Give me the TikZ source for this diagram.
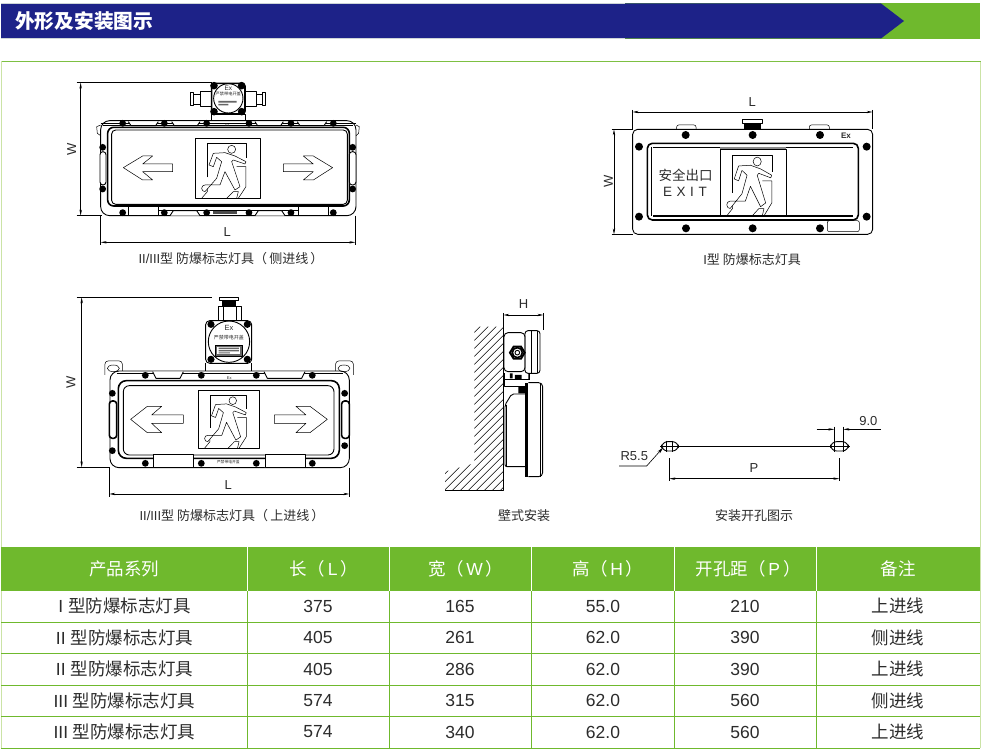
\documentclass[tikz,border=0pt]{standalone}
\usepackage{fontspec}
\setmainfont{Liberation Sans}
\newfontfamily\cjk{Noto Sans CJK SC}
\usetikzlibrary{arrows.meta}
\definecolor{bandblue}{HTML}{1D2288}
\definecolor{bandgreen}{HTML}{6FB92D}
\definecolor{palegreen}{HTML}{CBE3A6}
\definecolor{inkgrey}{HTML}{2B2B2B}
\tikzset{
  dimline/.style={line width=0.6pt,{Stealth[length=6pt,width=2.4pt]}-{Stealth[length=6pt,width=2.4pt]}},
  extline/.style={line width=0.6pt},
  dimtext/.style={font=\fontsize{13}{15}\selectfont,text=inkgrey,inner sep=0pt},
  captext/.style={font=\fontsize{13}{15}\selectfont,text=inkgrey,inner sep=0pt},
  celltext/.style={font=\fontsize{17.5}{20}\selectfont,text=inkgrey,inner sep=0pt},
  headtext/.style={font=\fontsize{17.5}{20}\selectfont,text=white,inner sep=0pt},
  tinytext/.style={font=\fontsize{5}{6}\selectfont,text=inkgrey,inner sep=0pt},
  thinline/.style={line width=0.5pt,line join=round},
  bodyline/.style={line width=0.9pt,line join=round},
  heavyline/.style={line width=1.6pt,line join=round},
  viewA/.style={shift={(60,70)},x=0.3333pt,y=-0.3333pt},
  viewB/.style={shift={(590,90)},x=0.3333pt,y=-0.3333pt},
  viewC/.style={shift={(60,290)},x=0.3333pt,y=-0.3333pt},
  viewD/.style={shift={(430,290)},x=0.3333pt,y=-0.3333pt},
  viewE/.style={shift={(600,400)},x=0.3333pt,y=-0.3333pt},
}
% sign with running man, #1 top left corner, #2 and #3 scale of the sign
\newcommand{\runsign}[3]{%
  \begin{scope}[shift={(#1)},xscale=#2,yscale=#3,thinline]
    \draw[bodyline] (0,0) rectangle (195,180);
    \draw (37,117) -- (37,15) -- (153,15) -- (153,60);
    \draw (125,85) -- (153,85) -- (153,145) -- (130,180);
    \draw (37,140) -- (37,160) -- (20,180);
    \draw (110,33) circle (12);
    \draw[fill=white] (42,80) -- (55,45) -- (90,43) -- (120,53) -- (153,70) -- (150,77)
      -- (115,65) -- (110,70) -- (135,145) -- (120,155) -- (90,100) -- (75,140) -- (30,140)
      arc (270:90:10) -- (65,120) -- (80,70) -- (65,57) -- (55,85) -- cycle;
    \draw (95,180) -- (115,160) -- (130,160) -- (125,180);
  \end{scope}
}
\newcommand{\boltdots}[2]{\foreach \bx/\by in {#2} \fill[black] (\bx,\by) circle (#1pt);}
\begin{document}
\begin{tikzpicture}[x=1pt,y=-1pt]
  \useasboundingbox (0,0) rectangle (984,752);

  % title band
  \fill[bandgreen] (625,3) rectangle (980,39);
  \fill[bandblue] (1,3.5) -- (881,3.5) -- (904,21) -- (881,38.5) -- (1,38.5) -- cycle;
  \draw[palegreen!60!bandblue!40,line width=0.8pt] (1,3.5) -- (625,3.5) (1,38.5) -- (625,38.5);
  \node[font=\cjk\bfseries\fontsize{19.7}{21}\selectfont,text=white,anchor=west,inner sep=0pt] (title) at (15,21) {外形及安装图示};

  % panel
  \draw[palegreen,line width=1pt] (1.5,61) -- (1.5,748) (980.5,61) -- (980.5,748);
  \draw[bandgreen!90,line width=1pt] (1.5,61) -- (980.5,61);

  % side entry lamp
  \begin{scope}[viewA]
    \draw[bodyline] (455,132) rectangle (555,152);
    \draw[bodyline] (390,68) rectangle (400,105) (400,72) rectangle (420,102) (420,65) rectangle (455,108);
    \draw[bodyline] (607,68) rectangle (617,105) (590,72) rectangle (607,102) (555,65) rectangle (590,108);
    \draw[heavyline,fill=white,rounded corners=3pt] (455,40) rectangle (555,132);
    \draw[bodyline] (505,85) circle (44);
    \boltdots{3.8}{462/47,545/47,462/125,545/125}
    \node[tinytext,font=\fontsize{6.5}{7}\selectfont] (aex) at (505,55) {Ex};
    \node[tinytext,font=\cjk\fontsize{4.2}{5}\selectfont] (acap) at (505,72) {严禁带电开盖};
    \fill[black!60] (475,93) rectangle (530,98) (475,102) rectangle (505,106);
    \draw[bodyline,rounded corners=9pt] (122,152) rectangle (888,437);
    \draw[thinline] (122,165) -- (110,170) -- (112,190) -- (122,197) (888,165) -- (898,170) -- (896,190) -- (888,197);
    \draw[thinline] (122,160) -- (888,160) (130,167) -- (880,167);
    \foreach \a/\b in {205/295,335/420,585/670,712/800}
      \draw[bodyline,fill=white] (\a,155) -- (\a+8,167) -- (\b-8,167) -- (\b,155);
    \draw[heavyline,rounded corners=6pt] (143,172) rectangle (868,408);
    \draw[bodyline,rounded corners=4pt] (155,180) rectangle (862,403);
    \draw[bodyline] (205,408) -- (205,437) (295,408) -- (295,437) (715,408) -- (715,437) (805,408) -- (805,437) (295,420) -- (715,420);
    \foreach \a/\b in {330/420,585/675}
      \draw[bodyline,fill=white] (\a,437) -- (\a+10,422) -- (\b-10,422) -- (\b,437);
    \fill[black!70] (460,422) rectangle (530,432);
    \draw[bodyline,fill=white,rounded corners=3pt] (120,245) rectangle (138,345) (868,245) rectangle (888,345);
    \boltdots{3.4}{188/160,313/160,440/160,567/160,693/160,820/160,188/428,313/428,440/428,567/428,693/428,820/428,128/232,128/357,878/232,878/357}
    \node[tinytext,font=\fontsize{3.5}{4}\selectfont] (abandex) at (502,165) {Ex};
    \draw[thinline] (190,293) -- (248,258) -- (278,258) -- (248,282) -- (338,282) -- (338,305) -- (248,305) -- (278,330) -- (248,330) -- cycle;
    \draw[thinline] (818,293) -- (760,258) -- (730,258) -- (760,282) -- (670,282) -- (670,305) -- (760,305) -- (730,330) -- (760,330) -- cycle;
    \runsign{405,205}{1}{1}
    \coordinate (aWtop) at (62,38);
    \coordinate (aWbot) at (62,437);
    \coordinate (aWtopend) at (455,38);
    \coordinate (aWbotend) at (125,437);
    \coordinate (aLleft) at (122,517);
    \coordinate (aLright) at (886,517);
    \draw[dimline] (aWtop) -- (aWbot);
    \draw[extline] (50,38) -- (aWtopend);
    \draw[extline] (50,437) -- (aWbotend);
    \draw[dimline] (aLleft) -- (aLright);
    \draw[extline] (122,437) -- (122,525) (886,437) -- (886,525);
    \node[dimtext,rotate=90] (aW) at (35,237) {W};
    \node[dimtext] (aL) at (502,487) {L};
  \end{scope}
  \node[captext] (acaption) at (231,259) {II/III{\cjk 型 防爆标志灯具（\,侧进线\,）}};

  % front plate lamp
  \begin{scope}[viewB]
    \draw[bodyline,rounded corners=5pt] (128,118) rectangle (848,433);
    \draw[thinline,rounded corners=2pt] (260,118) -- (260,105) -- (318,105) -- (318,118);
    \draw[thinline,rounded corners=2pt] (658,118) -- (658,105) -- (718,105) -- (718,118);
    \draw[thinline] (458,88) rectangle (518,100);
    \fill[black] (463,100) rectangle (512,118);
    \draw[heavyline,rounded corners=5pt] (172,160) rectangle (805,390);
    \draw[heavyline] (190,172) -- (790,172) (190,378) -- (790,378);
    \draw[bodyline,rounded corners=4pt] (184,172) -- (184,378);
    \fill[black!45] (390,172) rectangle (588,178);
    \runsign{390,178}{1.015}{1.11}
    \draw[thinline,rounded corners=2pt] (712,392) rectangle (808,425);
    \boltdots{4}{287/135,488/135,690/135,288/415,488/415,690/415,147/170,830/170,147/380,830/380}
    \node[tinytext,font=\bfseries\fontsize{8}{9}\selectfont] (bex) at (768,138) {Ex};
    \node[dimtext,font=\cjk\fontsize{13.5}{15}\selectfont] (bsafe) at (287,255) {安全出口};
    \node[dimtext,font=\fontsize{13.5}{15}\selectfont] (bexit) at (285,305) {E\,\,X\,\,I\,\,T};
    \coordinate (bLleft) at (128,66);
    \coordinate (bLright) at (848,66);
    \coordinate (bWtop) at (72,118);
    \coordinate (bWbot) at (72,433);
    \draw[dimline] (bLleft) -- (bLright);
    \draw[extline] (128,60) -- (128,118) (848,60) -- (848,118);
    \draw[dimline] (bWtop) -- (bWbot);
    \draw[extline] (65,118) -- (130,118) (65,433) -- (130,433);
    \node[dimtext] (bL) at (487,35) {L};
    \node[dimtext,rotate=90] (bW) at (55,275) {W};
  \end{scope}
  \node[captext] (bcaption) at (752,260) {I{\cjk 型 防爆标志灯具}};

  % top entry lamp
  \begin{scope}[viewC]
    \draw[thinline] (478,22) rectangle (536,32);
    \fill[black] (485,32) rectangle (528,48);
    \draw[bodyline] (475,48) rectangle (543,92) (490,48) -- (490,92) (530,48) -- (530,92);
    \draw[bodyline] (437,220) -- (437,243) (575,220) -- (575,243);
    \draw[bodyline,fill=white,rounded corners=4pt] (437,92) rectangle (575,220);
    \draw[bodyline] (507,155) circle (62);
    \boltdots{3.6}{453/103,562/103,453/208,562/208}
    \node[tinytext,font=\fontsize{7.5}{8}\selectfont] (cex) at (507,115) {Ex};
    \node[tinytext,font=\cjk\fontsize{5}{6}\selectfont] (ccap) at (507,142) {严禁带电开盖};
    \draw[bodyline,fill=black!60] (465,165) rectangle (548,198);
    \fill[white] (472,170) rectangle (541,192);
    \fill[black!60] (476,173) rectangle (537,177) (476,180) rectangle (537,184) (476,187) rectangle (510,190);
    \draw[thinline,rounded corners=3pt] (135,255) -- (135,213) -- (187,213) -- (187,243);
    \draw[thinline,rounded corners=3pt] (827,243) -- (827,213) -- (880,213) -- (880,255);
    \draw[thinline] (160,235) ellipse (18 and 10) (852,235) ellipse (18 and 10);
    \draw[bodyline,rounded corners=9pt] (150,243) rectangle (868,533);
    \draw[thinline] (170,250) -- (850,250);
    \foreach \a/\b in {278/370,612/735}
      \draw[bodyline,fill=white] (\a,245) -- (\a+10,265) -- (\b-10,265) -- (\b,245);
    \draw[heavyline,rounded corners=8pt] (175,272) rectangle (838,505);
    \draw[bodyline,rounded corners=6pt] (190,287) rectangle (822,495);
    \draw[thinline,fill=white] (280,493) rectangle (400,533) (615,493) rectangle (735,533);
    \draw[heavyline,fill=white,rounded corners=3pt] (148,333) rectangle (170,445) (845,333) rectangle (868,445);
    \draw[bodyline] (400,505) -- (615,505);
    \boltdots{3.4}{256/256,424/256,589/256,757/256,256/520,424/520,589/520,757/520,157/310,854/310,157/482,854/467}
    \node[tinytext,font=\fontsize{4}{5}\selectfont] (cbandex) at (508,263) {Ex};
    \node[tinytext,font=\cjk\fontsize{3.8}{5}\selectfont] (cplate) at (505,516) {严禁带电开盖};
    \draw[thinline] (212,388) -- (262,349) -- (305,349) -- (275,375) -- (370,375) -- (370,400) -- (275,400) -- (305,428) -- (262,428) -- cycle;
    \draw[thinline] (802,388) -- (750,349) -- (708,349) -- (738,375) -- (643,375) -- (643,400) -- (738,400) -- (708,428) -- (750,428) -- cycle;
    \runsign{415,300}{0.94}{0.97}
    \coordinate (cWtop) at (65,22);
    \coordinate (cWbot) at (65,532);
    \coordinate (cLleft) at (148,612);
    \coordinate (cLright) at (868,612);
    \draw[dimline] (cWtop) -- (cWbot);
    \draw[extline] (50,22) -- (455,22) (50,532) -- (150,532);
    \draw[dimline] (cLleft) -- (cLright);
    \draw[extline] (148,533) -- (148,622) (868,533) -- (868,622);
    \node[dimtext,rotate=90] (cW) at (33,277) {W};
    \node[dimtext] (cL) at (505,585) {L};
  \end{scope}
  \node[captext] (ccaption) at (232,516) {II/III{\cjk 型 防爆标志灯具（\,上进线\,）}};

  % wall mounting
  \begin{scope}[viewD]
    \begin{scope}
      \clip (133,110) -- (220,110) -- (220,602) -- (45,602) -- (45,545) -- (133,520) -- cycle;
      \foreach \c in {-312,-288,...,408}
        \draw[thinline] (\c-120,620) -- (\c+480,20);
    \end{scope}
    \draw[bodyline] (220,70) -- (220,602) -- (45,602);
    \draw[extline] (340,70) -- (340,120);
    \coordinate (dHleft) at (220,75);
    \coordinate (dHright) at (340,75);
    \draw[dimline] (dHleft) -- (dHright);
    \node[dimtext] (dH) at (281,43) {H};
    \draw[bodyline,rounded corners=4pt] (222,128) -- (285,128) -- (285,245) -- (222,245) -- cycle;
    \draw[bodyline,rounded corners=3pt] (285,122) rectangle (330,250);
    \draw[thinline] (303,122) -- (303,250) (323,122) -- (323,250);
    \draw[line width=2pt] (240,188) -- (251,170) -- (273,170) -- (284,188) -- (273,206) -- (251,206) -- cycle;
    \draw[line width=1.6pt] (262,188) circle (15);
    \draw[bodyline] (262,188) circle (7);
    \draw[bodyline] (222,250) -- (222,290) -- (290,290) (222,268) -- (300,268);
    \fill[black] (240,250) rectangle (248,265) (255,255) rectangle (275,268) (295,250) rectangle (300,268) (265,290) rectangle (285,310);
    \draw[bodyline,rounded corners=2pt] (285,312) -- (245,312) -- (225,345) -- (225,530) -- (285,530);
    \draw[thinline] (230,345) -- (230,530);
    \fill[black] (285,280) rectangle (295,562);
    \draw[bodyline,rounded corners=4pt] (295,278) -- (338,278) -- (338,560) -- (295,560);
    \draw[thinline] (330,278) -- (330,560);
  \end{scope}
  \node[captext] (dcaption) at (524,516) {\cjk 壁式安装};

  % drilling pattern
  \begin{scope}[viewE]
    \draw[bodyline,rounded corners=6pt] (185,125) rectangle (235,153) (692,125) rectangle (745,153);
    \coordinate (eslotl) at (180,139);
    \coordinate (eslotr) at (750,139);
    \draw[bodyline] (eslotl) -- (eslotr);
    \draw[thinline] (198,122) -- (198,155) (218,122) -- (218,155) (703,80) -- (703,155) (730,80) -- (730,155);
    \coordinate (enineA) at (650,88);
    \coordinate (enineB) at (703,88);
    \coordinate (enineC) at (843,88);
    \coordinate (enineD) at (730,88);
    \draw[extline,-{Stealth[length=6pt,width=2.4pt]}] (enineA) -- (enineB);
    \draw[extline,-{Stealth[length=6pt,width=2.4pt]}] (enineC) -- (enineD);
    \node[dimtext] (enine) at (805,62) {9.0};
    \coordinate (eRstart) at (57,198);
    \coordinate (eRknee) at (140,198);
    \coordinate (eRtip) at (190,142);
    \draw[extline,-{Stealth[length=7pt,width=3pt]}] (eRstart) -- (eRknee) -- (eRtip);
    \node[dimtext] (eR) at (103,168) {R5.5};
    \coordinate (ePleft) at (208,236);
    \coordinate (ePright) at (718,236);
    \draw[dimline] (ePleft) -- (ePright);
    \draw[extline] (208,175) -- (208,243) (718,175) -- (718,243);
    \node[dimtext] (eP) at (462,205) {P};
  \end{scope}
  \node[captext] (ecaption) at (754,516) {\cjk 安装开孔图示};

  % table
  \fill[bandgreen] (1,547) rectangle (980,591);
  \foreach \x in {247,389,531,674,816} {
    \draw[white,line width=0.8pt] (\x,547) -- (\x,591);
    \draw[bandgreen,line width=0.8pt] (\x,591) -- (\x,748.5);
  }
  \foreach \y in {622.3,653.7,685.3,716.8,748.5}
    \draw[bandgreen,line width=0.8pt] (1,\y) -- (980,\y);
  \node[headtext,font=\cjk\fontsize{17.5}{20}\selectfont] (hseries) at (124,569) {产品系列};
  \node[headtext] (hlength) at (324,569) {{\cjk 长（}\,L\,{\cjk ）}};
  \node[headtext] (hwidth) at (466,569) {{\cjk 宽（}\,W\,{\cjk ）}};
  \node[headtext] (hheight) at (608,569) {{\cjk 高（}\,H\,{\cjk ）}};
  \node[headtext] (hpitch) at (748,569) {{\cjk 开孔距（}\,P\,{\cjk ）}};
  \node[headtext,font=\cjk\fontsize{17.5}{20}\selectfont] (hnote) at (898,569) {备注};
  \foreach \r/\y/\kind/\l/\w/\h/\p/\note in {%
    1/606/I/375/165/55.0/210/上进线,
    2/637.5/II/405/261/62.0/390/侧进线,
    3/669/II/405/286/62.0/390/上进线,
    4/700.5/III/574/315/62.0/560/侧进线,
    5/732/III/574/340/62.0/560/上进线} {
    \node[celltext] (row\r name) at (124.5,\y) {\kind\ {\cjk 型防爆标志灯具}};
    \node[celltext] (row\r len) at (318,\y) {\l};
    \node[celltext] (row\r wid) at (460,\y) {\w};
    \node[celltext] (row\r hei) at (603,\y) {\h};
    \node[celltext] (row\r pit) at (745,\y) {\p};
    \node[celltext] (row\r not) at (898,\y) {\cjk \note};
  }
\end{tikzpicture}
\end{document}
